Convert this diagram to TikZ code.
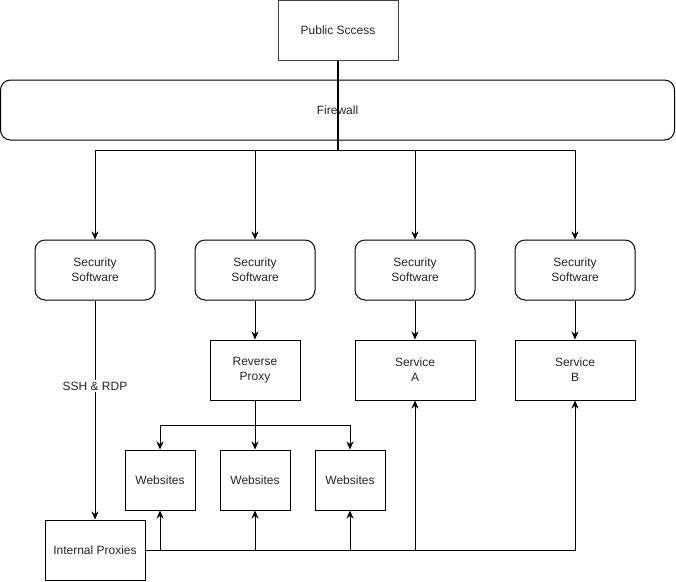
\documentclass[tikz,border=0pt]{standalone}
\usepackage{fontspec}
\setmainfont{Liberation Sans}
\usetikzlibrary{arrows.meta}
\begin{document}
\begin{tikzpicture}[x=1pt,y=-1pt,line width=1pt,
  every node/.style={font=\fontsize{12}{15}\selectfont, text=black!85, inner sep=0pt, align=center},
  sbox/.style={draw, fill=white, minimum width=#1, minimum height=60pt},
  sbox/.default=120pt,
  rbox/.style={draw, fill=white, rounded corners=10pt, minimum width=#1, minimum height=60pt},
  rbox/.default=120pt,
  arr/.style={-{Stealth[length=8pt,width=7pt,inset=2.5pt]}}]
\useasboundingbox (0,0) rectangle (676,581);
\node[sbox, draw=black!75] (pub) at (338,30) {Public Sccess};
\node[rbox=674pt] (fw) at (337.5,110) {Firewall};
\node[rbox] (s1) at (95,270) {Security\\Software};
\node[rbox] (s2) at (255,270) {Security\\Software};
\node[rbox] (s3) at (415,270) {Security\\Software};
\node[rbox] (s4) at (575,270) {Security\\Software};
\node[sbox=90pt] (rp) at (255,370) {Reverse\\Proxy};
\node[sbox] (sa) at (415,370) {Service\\A};
\node[sbox] (sb) at (575,370) {Service\\B};
\node[sbox=70pt] (w1) at (160,480) {Websites};
\node[sbox=70pt] (w2) at (255,480) {Websites};
\node[sbox=70pt] (w3) at (350,480) {Websites};
\node[sbox=100pt] (ip) at (95,550) {Internal Proxies};
\coordinate (j) at (338,150);
\coordinate (b) at (255,425);
\draw[line width=2pt] (pub.south) -- (j);
\draw[arr] (j) -| (s1.north);
\draw[arr] (j) -| (s2.north);
\draw[arr] (j) -| (s3.north);
\draw[arr] (j) -| (s4.north);
\draw[arr] (s2) -- (rp);
\draw[arr] (s3) -- (sa);
\draw[arr] (s4) -- (sb);
\draw[arr] (s1.south) -- node[pos=0.39, fill=white, inner sep=2pt]{SSH \& RDP} (ip.north);
\draw[arr] (rp.south) -- (w2.north);
\draw[arr] (b) -| (w1.north);
\draw[arr] (b) -| (w3.north);
\draw[arr] (ip.east) -| (sb.south);
\draw[arr] (w1.south |- ip.east) -- (w1.south);
\draw[arr] (w2.south |- ip.east) -- (w2.south);
\draw[arr] (w3.south |- ip.east) -- (w3.south);
\draw[arr] (sa.south |- ip.east) -- (sa.south);
\end{tikzpicture}
\end{document}
